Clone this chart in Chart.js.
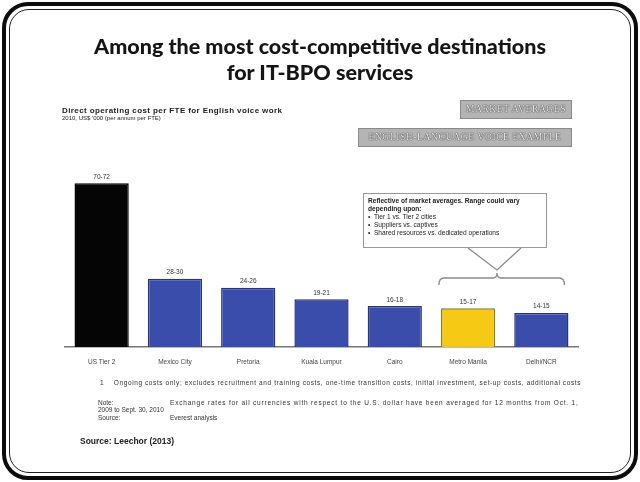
<!DOCTYPE html>
<html>
<head>
<meta charset="utf-8">
<script src="https://cdn.jsdelivr.net/npm/chart.js@4.4.1/dist/chart.umd.min.js"></script>
<style>
  html, body { margin: 0; padding: 0; background: #fff; }
  #slide { position: relative; width: 640px; height: 482px; overflow: hidden; font-family: "Liberation Sans", Arial, sans-serif; color: #222; }
  #frameOuter { position: absolute; left: 2px; top: 2px; width: 636px; height: 478px; box-sizing: border-box; border: 4.5px solid #0c0c0c; border-radius: 26px; }
  #frameInner { position: absolute; left: 9px; top: 9px; width: 622px; height: 464px; box-sizing: border-box; border: 1.5px solid #222; border-radius: 20px; }
  #chart { position: absolute; left: 0; top: 0; }
  .title { position: absolute; left: 0; width: 640px; text-align: center; font-family: Lato, "Open Sans", sans-serif; font-weight: 900; font-size: 21.5px; color: #151515; }
  .sub { position: absolute; left: 62px; white-space: nowrap; }
  .tag { position: absolute; box-sizing: border-box; background: #b4b4b4; border: 1px solid #8a8a8a; color: #eeeeee; font-family: "Liberation Serif", serif; font-size: 9.5px; letter-spacing: 0.6px; text-align: center; text-shadow: 0 0 1px #222, 0 0 1px #222; }
  #callout { position: absolute; left: 363px; top: 193px; width: 184px; height: 55px; box-sizing: border-box; border: 1.5px solid #999; background: #fff; font-size: 6.6px; line-height: 8px; padding: 3px 4px; }
  #callout b { display: block; }
  .note { position: absolute; font-size: 6.5px; white-space: nowrap; color: #333; }
</style>
</head>
<body>
<div id="slide">
  <canvas id="chart" width="640" height="482"></canvas>
  <div id="frameOuter"></div>
  <div id="frameInner"></div>

  <div class="title" style="top:33px;">Among the most cost-competitive destinations</div>
  <div class="title" style="top:59px;">for IT-BPO services</div>

  <div class="sub" style="top:106px;font-size:8px;font-weight:bold;letter-spacing:0.4px;">Direct operating cost per FTE for English voice work</div>
  <div class="sub" style="top:115px;font-size:6px;">2010, US$ '000 (per annum per FTE)</div>

  <div class="tag" style="left:460px;top:100px;width:112px;height:19px;line-height:17px;">MARKET AVERAGES</div>
  <div class="tag" style="left:358px;top:128px;width:214px;height:19px;line-height:17px;">ENGLISH-LANGUAGE VOICE EXAMPLE</div>

  <div id="callout">
    <b>Reflective of market averages. Range could vary depending upon:</b>
    <div>&bull;&nbsp;&nbsp;Tier 1 vs. Tier 2 cities</div>
    <div>&bull;&nbsp;&nbsp;Suppliers vs. captives</div>
    <div>&bull;&nbsp;&nbsp;Shared resources vs. dedicated operations</div>
  </div>

  <div class="note" style="left:100px;top:379px;letter-spacing:0.6px;">1&nbsp;&nbsp;&nbsp;&nbsp;Ongoing costs only; excludes recruitment and training costs, one-time transition costs, initial investment, set-up costs, additional costs</div>
  <div class="note" style="left:98px;top:399px;">Note:</div>
  <div class="note" style="left:170px;top:399px;letter-spacing:0.8px;">Exchange rates for all currencies with respect to the U.S. dollar have been averaged for 12 months from Oct. 1,</div>
  <div class="note" style="left:98px;top:406px;">2009 to Sept. 30, 2010</div>
  <div class="note" style="left:98px;top:414px;">Source:</div>
  <div class="note" style="left:170px;top:414px;">Everest analysis</div>
  <div class="sub" style="left:80px;top:436px;font-size:8.5px;font-weight:bold;">Source: Leechor (2013)</div>
</div>

<script>
// cost ranges per location, US$ '000 per FTE per year
const locations = ['US Tier 2', 'Mexico City', 'Pretoria', 'Kuala Lumpur', 'Cairo', 'Metro Manila', 'Delhi/NCR'];
const costLow  = [70, 28, 24, 19, 16, 15, 14];
const costHigh = [72, 30, 26, 21, 18, 17, 15];
const rangeLabels = costLow.map((lo, i) => lo + '-' + costHigh[i]);

const fills   = ['#050505', '#3b4dab', '#3b4dab', '#3b4dab', '#3b4dab', '#f6c915', '#3b4dab'];
const borders = ['#000000', '#27357e', '#27357e', '#27357e', '#27357e', '#8f7b1e', '#27357e'];

// range text above each bar
const rangeText = {
  id: 'rangeText',
  afterDatasetsDraw(chart) {
    const ctx = chart.ctx;
    const bars = chart.getDatasetMeta(0).data;
    ctx.save();
    ctx.font = '6.5px "Liberation Sans", Arial, sans-serif';
    ctx.fillStyle = '#333';
    ctx.textAlign = 'center';
    ctx.textBaseline = 'bottom';
    bars.forEach((b, i) => ctx.fillText(rangeLabels[i], b.x, b.y - 3));
    ctx.restore();
  }
};

// brace over Manila + Delhi, with the pointer from the callout box
const brace = {
  id: 'brace',
  afterDraw(chart) {
    const ctx = chart.ctx;
    const bars = chart.getDatasetMeta(0).data;
    const left = bars[5].x - bars[5].width / 2 - 2;
    const right = bars[6].x + bars[6].width / 2 - 4;
    const mid = 497;
    const y = 278;
    ctx.save();
    ctx.strokeStyle = '#8a8a8a';
    ctx.lineWidth = 1.3;
    ctx.beginPath();
    ctx.moveTo(left, y + 7);
    ctx.quadraticCurveTo(left, y, left + 5, y);
    ctx.lineTo(mid - 4, y);
    ctx.quadraticCurveTo(mid, y, mid, y - 5);
    ctx.quadraticCurveTo(mid, y, mid + 4, y);
    ctx.lineTo(right - 5, y);
    ctx.quadraticCurveTo(right, y, right, y + 7);
    ctx.stroke();
    ctx.beginPath();
    ctx.moveTo(468, 248);
    ctx.lineTo(mid, 270);
    ctx.lineTo(521, 248);
    ctx.stroke();
    ctx.restore();
  }
};

new Chart(document.getElementById('chart'), {
  type: 'bar',
  data: {
    labels: locations,
    datasets: [{
      data: costHigh,
      backgroundColor: fills,
      borderColor: borders,
      borderWidth: 1.5,
      barPercentage: 0.74,
      categoryPercentage: 1
    }]
  },
  options: {
    responsive: false,
    animation: false,
    layout: { padding: { left: 65, right: 62, top: 165, bottom: 115 } },
    plugins: { legend: { display: false }, tooltip: { enabled: false } },
    scales: {
      x: {
        grid: { display: false },
        border: { display: true, color: '#777', width: 1.5 },
        ticks: { font: { size: 6.5, family: '"Liberation Sans", Arial, sans-serif' }, color: '#444', padding: 3, maxRotation: 0 },
        afterFit: s => { s.height = 20; }
      },
      y: { display: false, min: 0, max: 80 }
    }
  },
  plugins: [rangeText, brace]
});
</script>
</body>
</html>
